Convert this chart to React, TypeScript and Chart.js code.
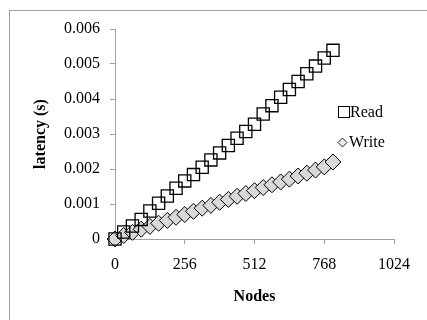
import React, { useEffect, useRef } from "react";
import { Chart, registerables } from "chart.js";

Chart.register(...registerables);

const nodes = [0, 32, 64, 96, 128, 160, 192, 224, 256, 288, 320, 352, 384, 416, 448, 480, 512, 544, 576, 608, 640, 672, 704, 736, 768, 800];
const readLatency = [0, 0.0002, 0.00037, 0.00056, 0.0008, 0.00102, 0.00123, 0.00145, 0.00166, 0.00184, 0.00205, 0.00226, 0.00246, 0.00267, 0.00288, 0.00307, 0.00328, 0.00357, 0.00381, 0.00405, 0.00427, 0.0045, 0.00472, 0.00494, 0.00517, 0.00539];
const writeLatency = [0, 0.0001, 0.00019, 0.00028, 0.00036, 0.00045, 0.00053, 0.00062, 0.0007, 0.00079, 0.00088, 0.00096, 0.00105, 0.00113, 0.00122, 0.0013, 0.00138, 0.00147, 0.00155, 0.00163, 0.00171, 0.0018, 0.00188, 0.00197, 0.00206, 0.0022];
const xTickLabels = ["0", "256", "512", "768", "1024"];
const yTickLabels = ["0", "0.001", "0.002", "0.003", "0.004", "0.005", "0.006"];
const seriesNames = ["Read", "Write"];

const FONT = '"Liberation Serif", "Times New Roman", serif';
const AXIS_GREY = "#a0a0a0";

const framePlugin = {
  id: "frame",
  beforeDraw(chart: any) {
    const ctx = chart.ctx;
    ctx.save();
    ctx.fillStyle = "#ffffff";
    ctx.fillRect(0, 0, chart.width, chart.height);
    ctx.strokeStyle = AXIS_GREY;
    ctx.lineWidth = 1;
    ctx.strokeRect(9.5, 10.5, 700, 700);
    ctx.restore();
  },
};

const legendPlugin = {
  id: "customLegend",
  afterDraw(chart: any) {
    const ctx = chart.ctx;
    ctx.save();
    ctx.font = `16px ${FONT}`;
    ctx.fillStyle = "#000";
    ctx.textBaseline = "middle";
    ctx.textAlign = "left";
    ctx.strokeStyle = "#000";
    ctx.lineWidth = 1;
    ctx.strokeRect(338.5, 106.5, 11, 11);
    ctx.fillText(seriesNames[0], 350, 112.5);
    const cx = 342.5, cy = 142.5, r = 4.5;
    ctx.beginPath();
    ctx.moveTo(cx, cy - r);
    ctx.lineTo(cx + r, cy);
    ctx.lineTo(cx, cy + r);
    ctx.lineTo(cx - r, cy);
    ctx.closePath();
    ctx.fillStyle = "#ececec";
    ctx.fill();
    ctx.strokeStyle = "#222";
    ctx.stroke();
    ctx.fillStyle = "#000";
    ctx.fillText(seriesNames[1], 349, 143);
    ctx.restore();
  },
};

export default function App() {
  const ref = useRef<HTMLCanvasElement | null>(null);

  useEffect(() => {
    if (!ref.current) return;
    const chart = new Chart(ref.current, {
      type: "scatter",
      data: {
        datasets: [
          {
            label: seriesNames[0],
            data: nodes.map((n, i) => ({ x: n, y: readLatency[i] })),
            pointStyle: "rect",
            pointRadius: 8.6,
            borderColor: "#000",
            backgroundColor: "rgba(0,0,0,0)",
            pointBorderWidth: 1.3,
            showLine: false,
            clip: false,
          },
          {
            label: seriesNames[1],
            data: nodes.map((n, i) => ({ x: n, y: writeLatency[i] })),
            pointStyle: "rectRot",
            pointRadius: 8,
            borderColor: "#000",
            backgroundColor: "#d9d9d9",
            pointBorderWidth: 1,
            showLine: false,
            clip: false,
          },
        ],
      },
      options: {
        responsive: false,
        animation: false,
        layout: { padding: { left: 0, right: 33, top: 29, bottom: 0 } },
        plugins: {
          legend: { display: false },
          tooltip: { enabled: false },
        },
        scales: {
          x: {
            type: "linear",
            min: 0,
            max: 1024,
            afterBuildTicks: (scale: any) => {
              scale.ticks = xTickLabels.map((l) => ({ value: parseFloat(l) }));
            },
            afterFit: (scale: any) => {
              scale.height = 81;
            },
            ticks: {
              color: "#000",
              font: { family: FONT, size: 16 },
              padding: 11,
              maxRotation: 0,
              autoSkip: false,
              callback: (_v: any, i: number) => xTickLabels[i],
            },
            grid: {
              display: true,
              drawOnChartArea: false,
              drawTicks: true,
              tickLength: 5,
              color: AXIS_GREY,
            },
            border: { display: true, color: AXIS_GREY, width: 1 },
            title: {
              display: true,
              text: "Nodes",
              color: "#000",
              font: { family: FONT, size: 16, weight: "bold" },
              padding: { top: 0, bottom: 14 },
            },
          },
          y: {
            type: "linear",
            min: 0,
            max: 0.006,
            afterBuildTicks: (scale: any) => {
              scale.ticks = yTickLabels.map((l) => ({ value: parseFloat(l) }));
            },
            afterFit: (scale: any) => {
              scale.width = 115;
            },
            ticks: {
              color: "#000",
              font: { family: FONT, size: 16 },
              padding: 10,
              callback: (_v: any, i: number) => yTickLabels[i],
            },
            grid: {
              display: true,
              drawOnChartArea: false,
              drawTicks: true,
              tickLength: 5,
              color: AXIS_GREY,
            },
            border: { display: true, color: AXIS_GREY, width: 1 },
            title: {
              display: true,
              text: "latency (s)",
              color: "#000",
              font: { family: FONT, size: 16, weight: "bold" },
              padding: { top: 31, bottom: 0 },
            },
          },
        },
      },
      plugins: [framePlugin, legendPlugin],
    });
    return () => chart.destroy();
  }, []);

  return (
    <div style={{ position: "fixed", left: 0, top: 0, width: 427, height: 320 }}>
      <canvas ref={ref} width={427} height={320} style={{ width: 427, height: 320, display: "block" }} />
    </div>
  );
}
